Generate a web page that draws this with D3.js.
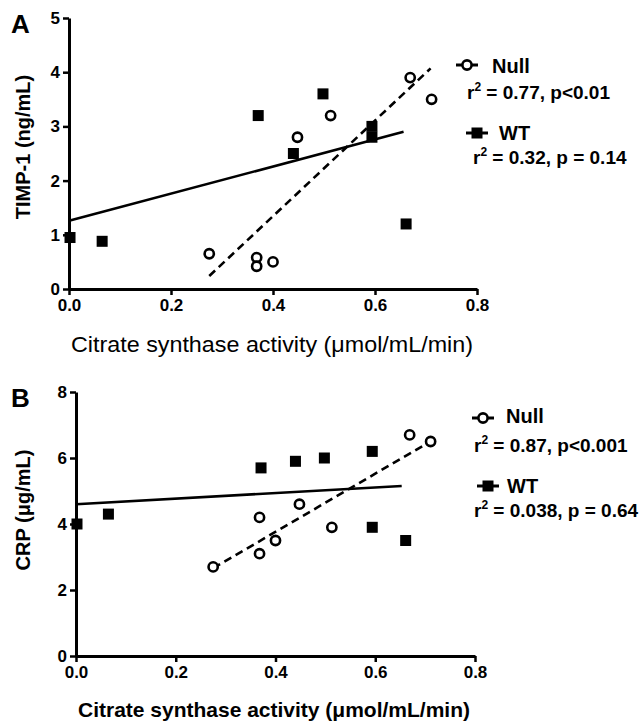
<!DOCTYPE html>
<html><head><meta charset="utf-8">
<script src="https://cdn.jsdelivr.net/npm/d3@7"></script>
<style>
body{margin:0;background:#fff}
svg{display:block}
text{font-family:"Liberation Sans",Arial,Helvetica,sans-serif;fill:#000}
</style>
</head><body><svg id="chart" width="640" height="727"></svg>
<script>
// ---- data ----
const citrateNull=[0.275,0.368,0.368,0.400,0.448,0.513,0.669,0.711];
const citrateWT=[0.002,0.065,0.371,0.440,0.498,0.594,0.594,0.661];
const timpNull=[0.65,0.58,0.42,0.50,2.80,3.20,3.90,3.50];
const timpWT=[0.95,0.88,3.20,2.50,3.60,3.00,2.80,1.20];
const crpNull=[2.70,4.20,3.10,3.50,4.60,3.90,6.70,6.50];
const crpWT=[4.00,4.30,5.70,5.90,6.00,6.20,3.90,3.50];
// regression lines as drawn: [x0, y0, x1, y1]
const fitTimpNull=[0.275,0.24,0.709,4.07];
const fitTimpWT=[0.000,1.26,0.656,2.90];
const fitCrpNull=[0.275,2.66,0.706,6.46];
const fitCrpWT=[0.000,4.60,0.653,5.15];
const xTicks=[0,0.2,0.4,0.6,0.8];
const timpTicks=[0,1,2,3,4,5];
const crpTicks=[0,2,4,6,8];
const groupNames=["Null","WT"];
const statsTimp=["0.77, p<0.01","0.32, p = 0.14"];
const statsCrp=["0.87, p<0.001","0.038, p = 0.64"];
const xTitle="Citrate synthase activity (\u03bcmol/mL/min)";

const svg=d3.select("#chart");

const panels=[
 {letter:"A",lx:11,ly:33,xr:[69,477],yr:[289,18],ymax:5,yTicks:timpTicks,
  nullY:timpNull,wtY:timpWT,fitN:fitTimpNull,fitW:fitTimpWT,
  yTitle:"TIMP-1 (ng/mL)",ytx:30,yty:147,
  xtx:272,xty:352,xtw:402,xtWeight:"normal",xtSize:22,
  stats:statsTimp,
  leg:{n:[467,65],nt:[492,73],ns:[467,99],w:[477,133],wt:[499,140],ws:[473,164]}},
 {letter:"B",lx:11,ly:407,xr:[76,475],yr:[656,392],ymax:8,yTicks:crpTicks,
  nullY:crpNull,wtY:crpWT,fitN:fitCrpNull,fitW:fitCrpWT,
  yTitle:"CRP (\u03bcg/mL)",ytx:30,yty:510,
  xtx:274,xty:717,xtw:392,xtWeight:"bold",xtSize:21,
  stats:statsCrp,
  leg:{n:[483,418],nt:[506,423],ns:[474,452],w:[488,486],wt:[507,493],ws:[474,517]}}
];

panels.forEach(p=>{
  const g=svg.append("g");
  const x=d3.scaleLinear().domain([0,0.8]).range(p.xr);
  const y=d3.scaleLinear().domain([0,p.ymax]).range(p.yr);

  // axes
  const ax=g.append("g").attr("transform",`translate(0,${p.yr[0]})`)
    .call(d3.axisBottom(x).tickValues(xTicks).tickFormat(d3.format(".1f")).tickSize(6).tickSizeOuter(0).tickPadding(4));
  const ay=g.append("g").attr("transform",`translate(${p.xr[0]},0)`)
    .call(d3.axisLeft(y).tickValues(p.yTicks).tickFormat(d3.format("d")).tickSize(6).tickSizeOuter(0).tickPadding(3));
  [ax,ay].forEach(a=>{
    a.select(".domain").attr("stroke","#000").attr("stroke-width",3);
    a.selectAll(".tick line").attr("stroke","#000").attr("stroke-width",2.5);
    a.selectAll(".tick text").attr("font-size",17).attr("font-weight","bold").attr("fill","#000")
      .style("font-family",'"Liberation Sans",Arial,sans-serif');
  });

  // panel letter
  g.append("text").attr("x",p.lx).attr("y",p.ly).attr("font-size",26).attr("font-weight","bold").text(p.letter);

  // titles
  g.append("text").attr("transform",`translate(${p.ytx},${p.yty}) rotate(-90)`)
    .attr("text-anchor","middle").attr("font-size",20).attr("font-weight","bold").text(p.yTitle);
  g.append("text").attr("x",p.xtx).attr("y",p.xty).attr("text-anchor","middle")
    .attr("font-size",p.xtSize).attr("font-weight",p.xtWeight)
    .attr("textLength",p.xtw).attr("lengthAdjust","spacingAndGlyphs").text(xTitle);

  // regression lines
  const line=d3.line().x(d=>x(d[0])).y(d=>y(d[1]));
  g.append("path").datum([[p.fitW[0],p.fitW[1]],[p.fitW[2],p.fitW[3]]])
    .attr("d",line).attr("stroke","#000").attr("stroke-width",2.6).attr("fill","none");
  g.append("path").datum([[p.fitN[0],p.fitN[1]],[p.fitN[2],p.fitN[3]]])
    .attr("d",line).attr("stroke","#000").attr("stroke-width",2.6).attr("fill","none")
    .attr("stroke-dasharray","8,5");

  // points
  const wt=citrateWT.map((c,i)=>[c,p.wtY[i]]);
  const nu=citrateNull.map((c,i)=>[c,p.nullY[i]]);
  g.selectAll(".wt").data(wt).join("rect").attr("class","wt")
    .attr("x",d=>x(d[0])-5.5).attr("y",d=>y(d[1])-5.5).attr("width",11).attr("height",11).attr("fill","#000");
  g.selectAll(".nu").data(nu).join("circle").attr("class","nu")
    .attr("cx",d=>x(d[0])).attr("cy",d=>y(d[1])).attr("r",4.6)
    .attr("fill","#fff").attr("stroke","#000").attr("stroke-width",2.6);

  // legend
  const L=p.leg;
  const lg=g.append("g");
  lg.append("line").attr("x1",L.n[0]-11).attr("x2",L.n[0]+11).attr("y1",L.n[1]).attr("y2",L.n[1]).attr("stroke","#000").attr("stroke-width",3);
  lg.append("circle").attr("cx",L.n[0]).attr("cy",L.n[1]).attr("r",4.6).attr("fill","#fff").attr("stroke","#000").attr("stroke-width",2.6);
  lg.append("text").attr("x",L.nt[0]).attr("y",L.nt[1]).attr("font-size",20).attr("font-weight","bold").text(groupNames[0]);
  lg.append("line").attr("x1",L.w[0]-11).attr("x2",L.w[0]+11).attr("y1",L.w[1]).attr("y2",L.w[1]).attr("stroke","#000").attr("stroke-width",3);
  lg.append("rect").attr("x",L.w[0]-5.5).attr("y",L.w[1]-5.5).attr("width",11).attr("height",11).attr("fill","#000");
  lg.append("text").attr("x",L.wt[0]).attr("y",L.wt[1]).attr("font-size",20).attr("font-weight","bold").text(groupNames[1]);
  [[L.ns,p.stats[0]],[L.ws,p.stats[1]]].forEach(([pos,s])=>{
    const t=lg.append("text").attr("x",pos[0]).attr("y",pos[1]).attr("font-size",19).attr("font-weight","bold");
    t.append("tspan").text("r");
    t.append("tspan").attr("font-size",12).attr("dy",-8).text("2");
    t.append("tspan").attr("dy",8).text(" = "+s);
  });
});
</script>
</body></html>
